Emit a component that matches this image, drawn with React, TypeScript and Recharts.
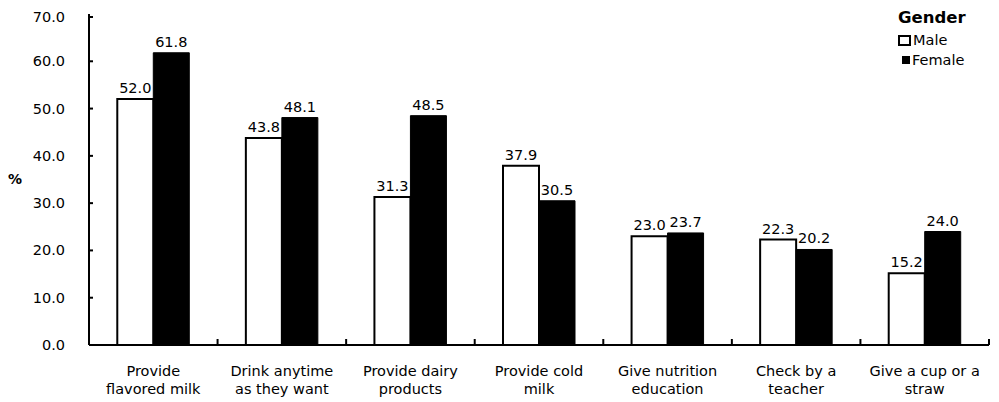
import React from 'react';
import { BarChart, Bar, XAxis, YAxis, LabelList } from 'recharts';

const categories = [
  ['Provide', 'flavored milk'],
  ['Drink anytime', 'as they want'],
  ['Provide dairy', 'products'],
  ['Provide cold', 'milk'],
  ['Give nutrition', 'education'],
  ['Check by a', 'teacher'],
  ['Give a cup or a', 'straw'],
];
const male = [52.0, 43.8, 31.3, 37.9, 23.0, 22.3, 15.2];
const female = [61.8, 48.1, 48.5, 30.5, 23.7, 20.2, 24.0];
const yTicks = [0, 10, 20, 30, 40, 50, 60, 70];

const data = categories.map((c, i) => ({
  name: c.join(' '),
  male: male[i],
  female: female[i],
}));

const FONT = '"DejaVu Sans", Verdana, sans-serif';
const W = 983;
const H = 394;
const M = { top: 6, right: 2, left: 0, bottom: 0 };
const Y_W = 81;
const X_H = 57;
const BAND = (W - M.left - M.right - Y_W) / categories.length;

// category label (two lines) plus a short upward tick at the right edge of each band
const XTick = (props: any) => {
  const { x, y, payload } = props;
  const lines = categories[payload.index] || [];
  return (
    <g>
      <line x1={x + BAND / 2} x2={x + BAND / 2} y1={y} y2={y - 6} stroke="#000" strokeWidth={2} />
      <text x={x} y={y} textAnchor="middle" fontFamily={FONT} fontSize={14.5} fill="#000">
        {lines.map((l, i) => (
          <tspan key={i} x={x} dy={i === 0 ? 31 : 18}>{l}</tspan>
        ))}
      </text>
    </g>
  );
};

// value label plus an inward tick on the right of the axis line
const YTick = (props: any) => {
  const { x, y, payload } = props;
  return (
    <g>
      <line x1={x + 24} x2={x + 28} y1={y} y2={y} stroke="#000" strokeWidth={2} />
      <text x={x} y={y} dy={5} textAnchor="end" fontFamily={FONT} fontSize={14.5} fill="#000">
        {payload.value.toFixed(1)}
      </text>
    </g>
  );
};

const legendItems = [
  { label: 'Male', outline: true },
  { label: 'Female', outline: false },
];

const labelStyle = { fontFamily: FONT, fontSize: 14.5, fill: '#000' };

export default function App() {
  return (
    <div style={{ position: 'relative', width: W, height: H, background: '#fff' }}>
      <BarChart width={W} height={H} data={data} margin={M} barCategoryGap="22%" barGap={0}>
        <XAxis
          dataKey="name"
          tick={<XTick />}
          tickLine={false}
          tickSize={0}
          tickMargin={0}
          axisLine={{ stroke: '#000', strokeWidth: 2 }}
          height={X_H}
          interval={0}
        />
        <YAxis
          domain={[0, 70]}
          ticks={yTicks}
          tick={<YTick />}
          tickLine={false}
          tickSize={0}
          tickMargin={24}
          axisLine={{ stroke: '#000', strokeWidth: 2 }}
          width={Y_W}
          label={{ value: '%', angle: 0, position: 'insideLeft', offset: 0, fontFamily: FONT, fontSize: 14, fontWeight: 'bold', fill: '#000' }}
        />
        <Bar dataKey="male" fill="#fff" stroke="#000" strokeWidth={2} isAnimationActive={false}>
          <LabelList dataKey="male" position="top" offset={6} formatter={(v: any) => Number(v).toFixed(1)} style={labelStyle} />
        </Bar>
        <Bar dataKey="female" fill="#000" stroke="#000" strokeWidth={1} isAnimationActive={false}>
          <LabelList dataKey="female" position="top" offset={6} formatter={(v: any) => Number(v).toFixed(1)} style={labelStyle} />
        </Bar>
      </BarChart>
      <div style={{ position: 'absolute', left: 889, top: 0, fontFamily: FONT, color: '#000' }}>
        <div style={{ fontWeight: 'bold', fontSize: 16.5, marginLeft: 1, height: 22 }}>Gender</div>
        {legendItems.map((it, i) => (
          <div key={it.label} style={{ display: 'flex', alignItems: 'center', fontSize: 14.5, height: 20, marginLeft: i === 0 ? 1 : 5 }}>
            <span
              style={{
                display: 'inline-block',
                width: it.outline ? 9 : 8,
                height: it.outline ? 7 : 8,
                border: it.outline ? '2px solid #000' : 'none',
                background: it.outline ? '#fff' : '#000',
                marginRight: 2,
              }}
            />
            {it.label}
          </div>
        ))}
      </div>
    </div>
  );
}
